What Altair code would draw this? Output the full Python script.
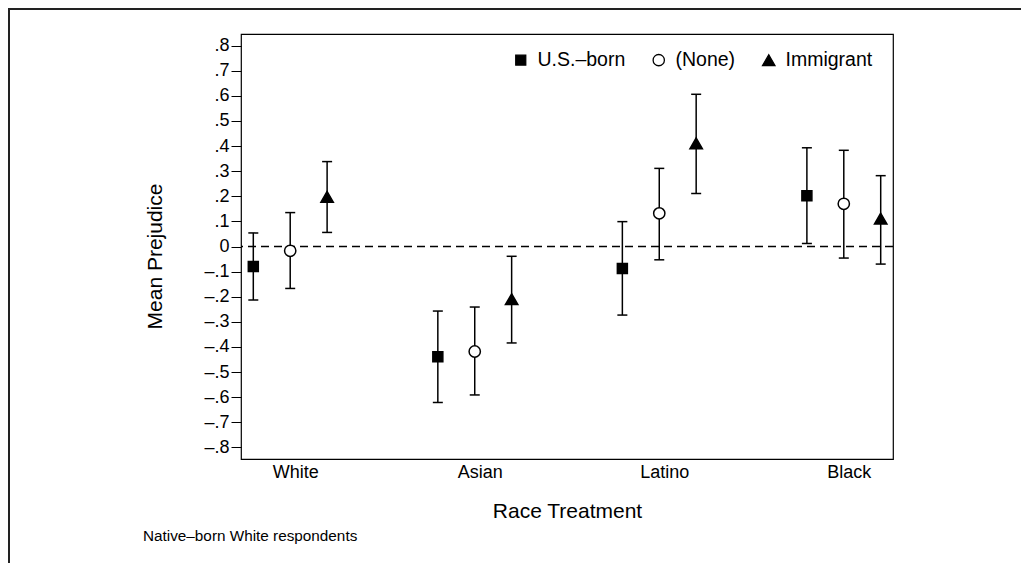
import altair as alt
import pandas as pd

# ---- data ----
categories = ["White", "Asian", "Latino", "Black"]
series = ["U.S.–born", "(None)", "Immigrant"]

mean_usborn = [-0.080, -0.439, -0.088, 0.202]
lo_usborn = [-0.213, -0.621, -0.273, 0.012]
hi_usborn = [0.054, -0.257, 0.099, 0.393]

mean_none = [-0.017, -0.418, 0.132, 0.170]
lo_none = [-0.167, -0.591, -0.053, -0.046]
hi_none = [0.135, -0.241, 0.311, 0.383]

mean_immig = [0.198, -0.210, 0.411, 0.111]
lo_immig = [0.056, -0.384, 0.211, -0.070]
hi_immig = [0.338, -0.039, 0.606, 0.282]

y_ticks = [round(i / 10, 1) for i in range(-8, 9)]
note = "Native–born White respondents"

means = [mean_usborn, mean_none, mean_immig]
los = [lo_usborn, lo_none, lo_immig]
his = [hi_usborn, hi_none, hi_immig]

rows = []
for gi, cat in enumerate(categories):
    for si, s in enumerate(series):
        rows.append({
            "category": cat, "series": s, "pos": gi * 5 + si,
            "mean": means[si][gi], "lo": los[si][gi], "hi": his[si][gi],
        })
df = pd.DataFrame(rows)

W, H = 652, 425
PAD_L, PAD_T, PAD_R, PAD_B = 233, 26, 128, 104
FONT = "Liberation Sans"

x_label_expr = "[" + ",".join("'%s'" % c for c in categories) + "][round((datum.value-1)/5)]"
y_label_expr = ("datum.value == 0 ? '0' : (datum.value < 0 ? '–' : '') + "
                "replace(format(abs(datum.value), '.1f'), '0.', '.')")

xscale = alt.Scale(domain=[-1 / 3, 17 + 1 / 3], nice=False, zero=False)
yscale = alt.Scale(domain=[-0.846, 0.846], nice=False, zero=False)

x_axis = alt.Axis(
    values=[1, 6, 11, 16], labelExpr=x_label_expr, ticks=False, domain=False,
    grid=False, labelFontSize=18, labelPadding=4, labelOffset=5,
    labelColor="black", title="Race Treatment", titleFontSize=21,
    titleFontWeight="normal", titleColor="black", titleY=52,
    titleBaseline="middle")
y_axis = alt.Axis(
    values=y_ticks, tickCount=17, labelExpr=y_label_expr, tickSize=10,
    tickWidth=1, tickColor="black", domain=False, grid=False,
    labelFontSize=18, labelOverlap=False, labelPadding=2, labelColor="black",
    title="Mean Prejudice", titleFontSize=21, titleFontWeight="normal",
    titleColor="black", titleX=-86, titleY=222, titleBaseline="middle",
    titleAlign="center", titleAngle=-90)


def X(field):
    return alt.X(field, scale=xscale, axis=x_axis)


def Y(field):
    return alt.Y(field, scale=yscale, axis=y_axis)


base = alt.Chart(df)

zero = alt.Chart(pd.DataFrame({"z": [0]})).mark_rule(
    color="black", strokeWidth=1.3, strokeDash=[8, 5]
).encode(y=Y("z:Q"))

bars = base.mark_rule(color="black", strokeWidth=1.5).encode(
    x=X("pos:Q"), y=Y("lo:Q"), y2="hi:Q")
cap_lo = base.mark_tick(orient="horizontal", size=10, thickness=1.5,
                        color="black", opacity=1).encode(
    x=X("pos:Q"), y=Y("lo:Q"))
cap_hi = base.mark_tick(orient="horizontal", size=10, thickness=1.5,
                        color="black", opacity=1).encode(
    x=X("pos:Q"), y=Y("hi:Q"))

points = base.mark_point(stroke="black", strokeWidth=1.5, opacity=1,
                         fillOpacity=1).encode(
    x=X("pos:Q"),
    y=Y("mean:Q"),
    shape=alt.Shape("series:N", scale=alt.Scale(
        domain=series, range=["square", "circle", "triangle-up"]),
        legend=alt.Legend(title=None, orient="none", direction="horizontal",
                          legendX=270, legendY=16, labelFontSize=19.5,
                          labelColor="black", symbolStrokeColor="black",
                          symbolStrokeWidth=1.3, labelOffset=7,
                          columnPadding=23, padding=0)),
    fill=alt.Fill("series:N", scale=alt.Scale(
        domain=series, range=["black", "white", "black"])),
    size=alt.Size("series:N", scale=alt.Scale(
        domain=series, range=[100, 154, 130])),
)

one = pd.DataFrame({"note": [note]})
note_text = alt.Chart(one).mark_text(
    align="left", baseline="middle", fontSize=15.3, color="black", font=FONT
).encode(x=alt.value(-98), y=alt.value(502), text="note:N")

border_top = alt.Chart(one).mark_rule(color="#222", strokeWidth=2).encode(
    x=alt.value(-PAD_L), x2=alt.value(W + PAD_R), y=alt.value(-PAD_T + 1))
border_left = alt.Chart(one).mark_rule(color="#222", strokeWidth=2).encode(
    x=alt.value(-PAD_L + 1), y=alt.value(-PAD_T), y2=alt.value(H + PAD_B))

chart = alt.layer(
    zero, bars, cap_lo, cap_hi, points, note_text, border_top, border_left
).properties(
    width=W, height=H,
    padding={"left": PAD_L, "top": PAD_T, "right": PAD_R, "bottom": PAD_B},
    autosize=alt.AutoSizeParams(type="none"),
    background="white",
).configure(font=FONT).configure_view(
    stroke="black", strokeWidth=1.2
).configure_axis(labelFont=FONT, titleFont=FONT).configure_legend(
    labelFont=FONT)

chart.save("out.html", embed_options={"renderer": "svg", "actions": False})
